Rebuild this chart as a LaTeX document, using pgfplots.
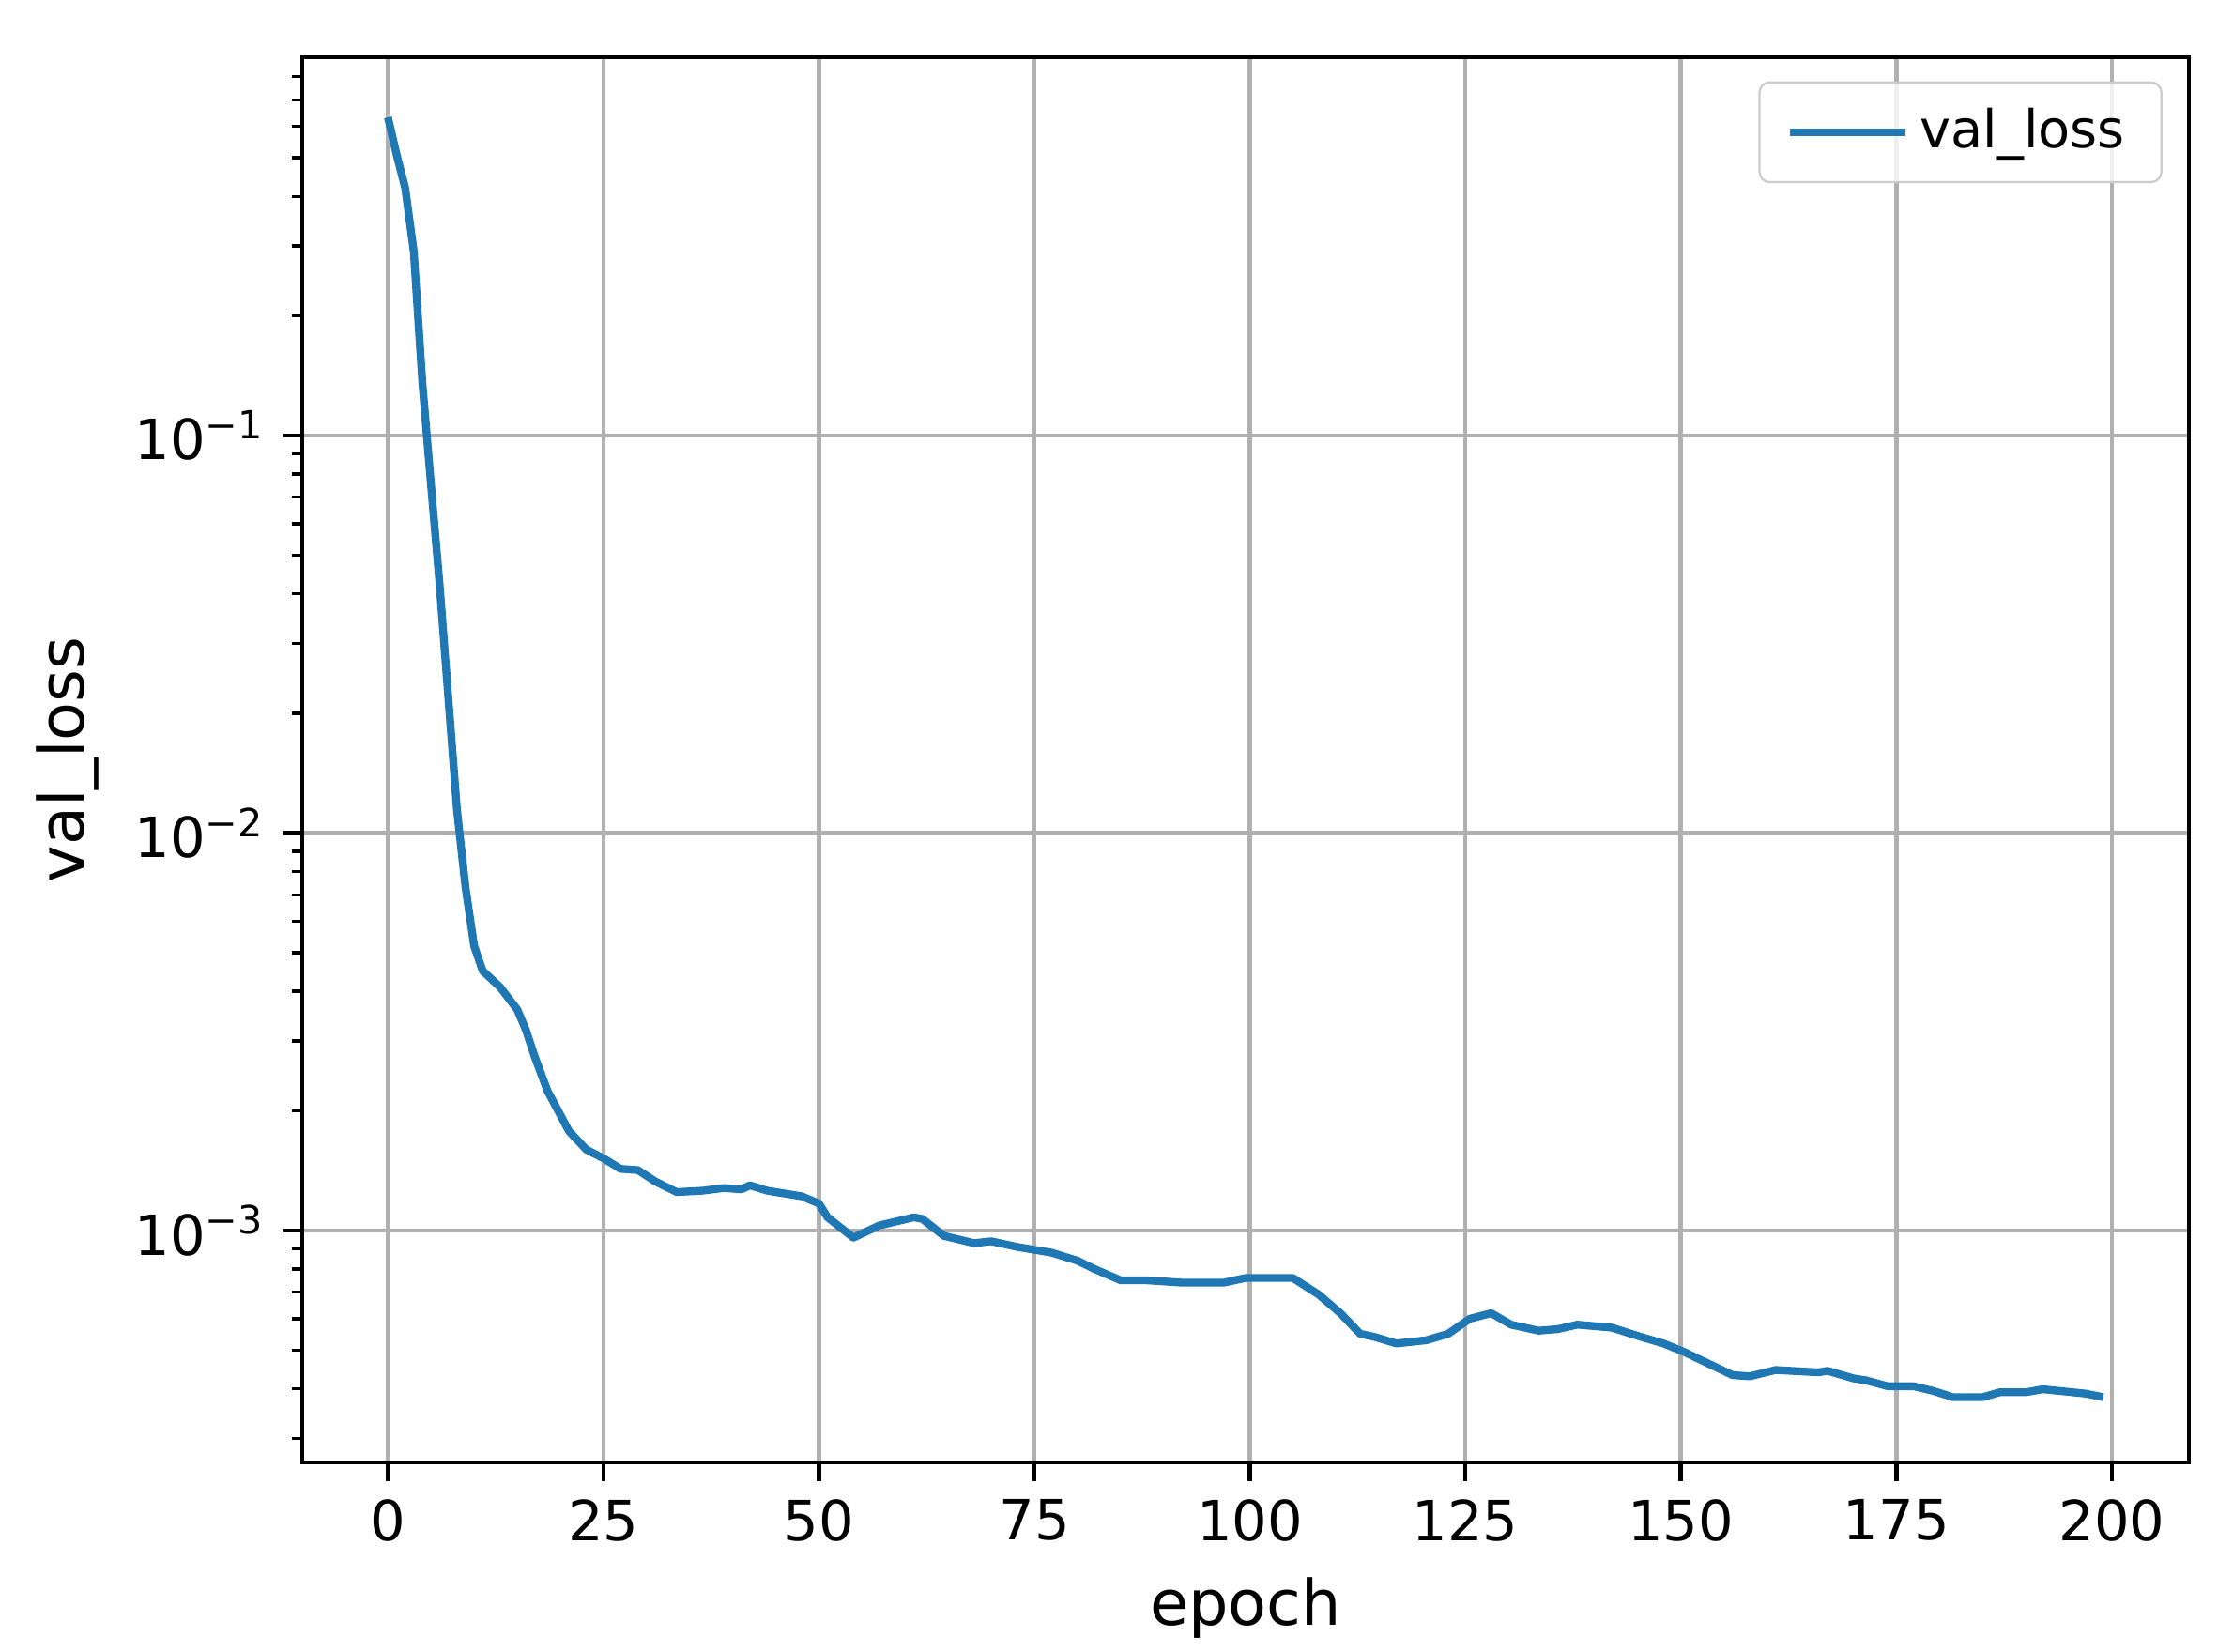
\documentclass[border=0pt]{standalone}
\usepackage{fontspec}
\setmainfont{DejaVu Sans}
\usepackage{pgfplots}
\pgfplotsset{compat=1.18}
\definecolor{mplblue}{HTML}{1F77B4}
\definecolor{mplgrid}{HTML}{B0B0B0}

\begin{document}
\begin{tikzpicture}
\begin{axis}[
    name=ax,
    scale only axis,
    width=12.674cm, height=9.439cm,
    ymode=log,
    xmin=-9.95, xmax=208.95,
    ymin=2.61e-4, ymax=0.895,
    xtick={0,25,50,75,100,125,150,175,200},
    ytick={0.1,0.01,0.001},
    minor ytick={3e-4,4e-4,5e-4,6e-4,7e-4,8e-4,9e-4,
                 2e-3,3e-3,4e-3,5e-3,6e-3,7e-3,8e-3,9e-3,
                 2e-2,3e-2,4e-2,5e-2,6e-2,7e-2,8e-2,9e-2,
                 0.2,0.3,0.4,0.5,0.6,0.7,0.8},
    yticklabels={10\textsuperscript{−1},10\textsuperscript{−2},10\textsuperscript{−3}},
    /pgf/number format/assume math mode=true,
    tick align=outside,
    xtick pos=bottom, ytick pos=left,
    major tick length=3.5pt, minor tick length=2pt,
    every tick/.style={black, line width=0.8pt},
    minor tick style={black, line width=0.6pt},
    axis line style={line width=0.8pt},
    grid=major,
    major grid style={mplgrid, line width=0.8pt},
    xlabel={epoch}, ylabel={val\_loss},
    label style={font=\fontsize{12}{14}\selectfont},
    ticklabel style={font=\fontsize{10.6}{12}\selectfont},
    legend style={at={(0.986,0.983)}, anchor=north east, draw=black!20,
        rounded corners=2pt, fill=white, fill opacity=0.8, text opacity=1,
        font=\fontsize{10}{12}\selectfont, inner xsep=5pt, inner ysep=3pt},
    legend cell align=left,
    legend image code/.code={\draw[#1] (0cm,0cm) -- (0.78cm,0cm);},
]
\addplot[mplblue, line width=1.5pt, line join=round] coordinates {
(0,0.632) (1,0.51) (2,0.42) (3,0.29) (4,0.135) (5,0.075) (6,0.042)
(7,0.022) (8,0.0115) (9,0.0073) (10,0.0052) (11,0.0045) (13,0.0041)
(15,0.0036) (16,0.0032) (17,0.00275) (18.5,0.00225) (21,0.00178)
(23,0.0016) (25,0.00152) (27,0.00143) (29,0.00142) (31,0.00133)
(33.5,0.00125) (36.5,0.00126) (39,0.00128) (41,0.00127) (42,0.0013)
(44,0.00126) (48,0.00122) (50,0.00117) (51,0.00108) (54,0.00096)
(57,0.00103) (61,0.00108) (62,0.00107) (64.5,0.00097) (68,0.00093)
(70,0.00094) (73,0.00091) (77,0.00088) (80,0.00084) (82,0.0008)
(85,0.00075) (88,0.00075) (92,0.00074) (97,0.00074) (99.5,0.00076)
(105,0.00076) (108,0.00069) (110.5,0.00062) (112.8,0.00055)
(114.5,0.00054) (117,0.00052) (120.5,0.00053) (123,0.00055)
(125.5,0.0006) (128,0.00062) (130.3,0.00058) (133.5,0.00056)
(135.7,0.000565) (138,0.00058) (142,0.00057) (145.4,0.00054)
(148,0.00052) (150.4,0.000495) (153,0.000465) (156,0.000433)
(158,0.00043) (161,0.000446) (166,0.00044) (167,0.000444)
(170,0.000425) (171.5,0.00042) (174,0.000406) (177,0.000406)
(179.3,0.000395) (181.6,0.000381) (185,0.000381) (187,0.000392)
(190,0.000392) (192,0.000399) (194.5,0.000394) (197,0.000389)
(199,0.000381)
};
\addlegendentry{val\_loss}
\end{axis}
\pgfresetboundingbox
\path (ax.south west) ++(-2.030cm,-1.267cm) coordinate (bl);
\path (ax.north east) ++(0.296cm,0.385cm) coordinate (tr);
\path (bl) rectangle (tr);
\end{tikzpicture}
\end{document}
